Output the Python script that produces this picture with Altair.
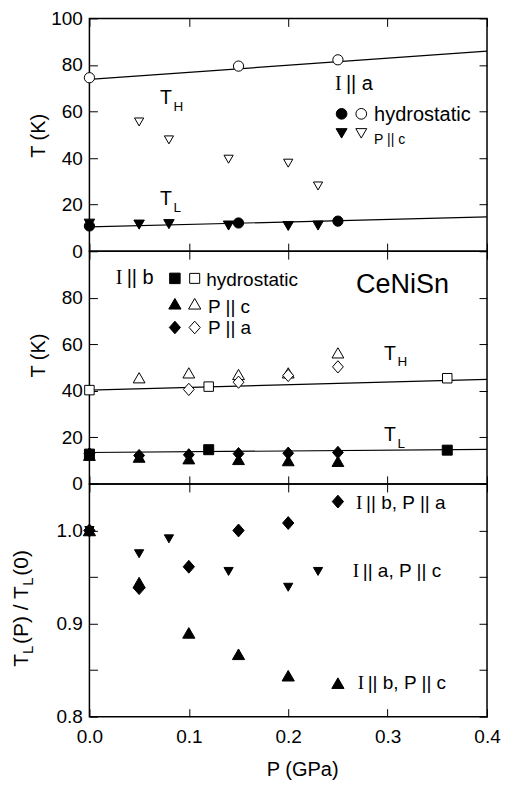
import altair as alt
import pandas as pd

SANS = "Liberation Sans"
SERIF = "Liberation Serif"
W, H = 398, 233
XDOM = [0, 0.4]

# ---------------- data: panel 1 (I || a) ----------------
a_hydro_P = [0.0, 0.15, 0.25]
a_hydro_TH = [74.5, 79.5, 82.2]
a_hydro_TL = [10.8, 12.1, 12.9]
a_pc_TH_P = [0.05, 0.08, 0.14, 0.20, 0.23]
a_pc_TH = [55.5, 47.8, 39.5, 37.8, 28.0]
a_pc_TL_P = [0.0, 0.05, 0.08, 0.14, 0.20, 0.23]
a_pc_TL = [11.8, 11.4, 11.6, 11.0, 10.8, 11.0]
a_fit_P = [0.0, 0.4]
a_fit_TH = [73.8, 85.9]
a_fit_TL = [10.4, 14.7]

# ---------------- data: panel 2 (I || b) ----------------
b_hydro_P = [0.0, 0.12, 0.36]
b_hydro_TH = [40.3, 41.8, 45.4]
b_hydro_TL = [12.8, 14.7, 14.5]
b_pc_TH_P = [0.05, 0.10, 0.15, 0.20, 0.25]
b_pc_TH = [45.6, 47.7, 47.0, 47.7, 56.3]
b_pa_TH_P = [0.10, 0.15, 0.20, 0.25]
b_pa_TH = [40.6, 43.7, 46.6, 50.3]
b_TL_P = [0.0, 0.05, 0.10, 0.15, 0.20, 0.25]
b_pc_TL = [12.3, 11.5, 10.8, 10.5, 10.0, 9.7]
b_pa_TL = [13.0, 12.2, 12.5, 13.0, 13.2, 13.5]
b_fit_P = [0.0, 0.4]
b_fit_TH = [40.3, 44.9]
b_fit_TL = [13.5, 14.8]

# ---------------- data: panel 3 (T_L(P)/T_L(0)) ----------------
r_ba_P = [0.0, 0.05, 0.10, 0.15, 0.20, 0.25]
r_ba = [1.0, 0.938, 0.961, 1.0, 1.008, 1.031]
r_ac_P = [0.0, 0.05, 0.08, 0.14, 0.20, 0.23]
r_ac = [1.0, 0.975, 0.991, 0.956, 0.939, 0.956]
r_bc_P = [0.0, 0.05, 0.10, 0.15, 0.20, 0.25]
r_bc = [1.0, 0.944, 0.890, 0.867, 0.844, 0.836]

# tick values
x_ticks = [0.0, 0.1, 0.2, 0.3, 0.4]
t_ticks = [0, 20, 40, 60, 80, 100]
r_ticks = [0.80, 0.85, 0.90, 0.95, 1.00, 1.05]

DIAMOND = "M0,-1L0.88,0L0,1L-0.88,0Z"


def axis(orient, values, labels=True, title=None, label_expr=None, fmt=None, **kw):
    d = dict(orient=orient, values=values, domain=False, grid=False, ticks=True,
             tickSize=8, offset=-8, tickColor="black", tickWidth=1,
             labels=labels, labelFont=SANS, labelFontSize=19, labelColor="black",
             labelFlush=False, labelOverlap=False,
             labelPadding=11 if orient == "bottom" else 7)
    if label_expr:
        d["labelExpr"] = label_expr
    if fmt:
        d["format"] = fmt
    if title:
        d.update(title=title, titleFont=SANS, titleFontSize=20, titleColor="black",
                 titleFontWeight="normal")
    else:
        d["title"] = None
    d.update(kw)
    return alt.Axis(**d)


def enc(ch, ydom, xaxis=None, yaxis=None):
    xs = alt.Scale(domain=XDOM, nice=False, zero=False)
    ys = alt.Scale(domain=ydom, nice=False, zero=False)
    return ch.encode(
        x=alt.X("P:Q", scale=xs, axis=xaxis),
        y=alt.Y("T:Q", scale=ys, axis=yaxis),
    )


def pts(P, T, shape, filled, size, ydom, **ax):
    df = pd.DataFrame({"P": P, "T": T})
    ch = alt.Chart(df).mark_point(shape=shape, size=size, filled=True,
                                  fill="black" if filled else "white",
                                  stroke="black", strokeWidth=1, opacity=1)
    return enc(ch, ydom, **ax)


def line(P, T, ydom, **ax):
    df = pd.DataFrame({"P": P, "T": T})
    ch = alt.Chart(df).mark_line(color="black", strokeWidth=1.2)
    return enc(ch, ydom, **ax)


def txt(P, T, labels, ydom, font=SANS, size=19, dx=0, dy=0, baseline="middle"):
    df = pd.DataFrame({"P": P, "T": T, "label": labels})
    ch = alt.Chart(df).mark_text(font=font, fontSize=size, dx=dx, dy=dy, align="left",
                                 baseline=baseline, color="black")
    return enc(ch, ydom).encode(text="label:N")


# ---------------- panel 1 ----------------
D1 = [0, 100]
p1 = alt.layer(
    line(a_fit_P, a_fit_TH, D1,
         xaxis=axis("bottom", x_ticks, labels=False),
         yaxis=axis("left", t_ticks, title="T (K)", titleX=-52.7, titleY=117,
                    titleAngle=270, titleBaseline="alphabetic")),
    line(a_fit_P, a_fit_TL, D1,
         xaxis=axis("top", x_ticks, labels=False),
         yaxis=axis("right", t_ticks, labels=False)),
    pts(a_pc_TH_P, a_pc_TH, "triangle-down", False, 85, D1),
    pts(a_pc_TL_P, a_pc_TL, "triangle-down", True, 110, D1),
    pts(a_hydro_P, a_hydro_TH, "circle", False, 105, D1),
    pts(a_hydro_P, a_hydro_TL, "circle", True, 105, D1),
    # legend symbols
    pts([0.2537], [59.0], "circle", True, 115, D1),
    pts([0.2735], [59.0], "circle", False, 115, D1),
    pts([0.2537], [50.6], "triangle-down", True, 120, D1),
    pts([0.2735], [50.6], "triangle-down", False, 120, D1),
    txt([0.2864], [58.6], ["hydrostatic"], D1, size=20),
    txt([0.2864], [47.8], ["P || c"], D1, size=14),
    txt([0.247], [71.8], ["I"], D1, font=SERIF, size=20),
    txt([0.247], [71.8], ["|| a"], D1, size=20, dx=11),
    txt([0.0711, 0.0711], [63.1, 19.9], ["T", "T"], D1, size=19.5, baseline="alphabetic"),
    txt([0.0711, 0.0711], [63.1, 19.9], ["H", "L"], D1, size=13.5, dx=13.4, dy=6.7,
        baseline="alphabetic"),
).resolve_axis(x="independent", y="independent").properties(width=W, height=H)

# ---------------- panel 2 ----------------
D2 = [0, 100]
p2 = alt.layer(
    line(b_fit_P, b_fit_TH, D2,
         xaxis=axis("bottom", x_ticks, labels=False),
         yaxis=axis("left", t_ticks, title="T (K)", titleX=-52.7, titleY=104,
                    titleAngle=270, titleBaseline="alphabetic",
                    label_expr="datum.value == 100 ? '' : datum.label")),
    line(b_fit_P, b_fit_TL, D2,
         xaxis=axis("top", x_ticks, labels=False),
         yaxis=axis("right", t_ticks, labels=False)),
    pts(b_pc_TH_P, b_pc_TH, "triangle-up", False, 140, D2),
    pts(b_pa_TH_P, b_pa_TH, DIAMOND, False, 150, D2),
    pts(b_hydro_P, b_hydro_TH, "square", False, 90, D2),
    pts(b_TL_P, b_pc_TL, "triangle-up", True, 140, D2),
    pts(b_TL_P, b_pa_TL, DIAMOND, True, 150, D2),
    pts(b_hydro_P, b_hydro_TL, "square", True, 100, D2),
    # legend symbols
    pts([0.0860], [88.3], "square", True, 110, D2),
    pts([0.1059], [88.3], "square", False, 100, D2),
    pts([0.0860], [77.4], "triangle-up", True, 150, D2),
    pts([0.1059], [77.4], "triangle-up", False, 150, D2),
    pts([0.0860], [67.2], DIAMOND, True, 160, D2),
    pts([0.1059], [67.2], DIAMOND, False, 160, D2),
    txt([0.1175], [87.8], ["hydrostatic"], D2, size=19),
    txt([0.1192, 0.1192], [76.2, 67.0], ["P || c", "P || a"], D2, size=19),
    txt([0.0264], [88.3], ["I"], D2, font=SERIF, size=20),
    txt([0.0264], [88.3], ["|| b"], D2, size=20, dx=11),
    txt([0.2683], [85.5], ["CeNiSn"], D2, size=27),
    txt([0.2964, 0.2964], [53.4, 18.5], ["T", "T"], D2, size=19.5, baseline="alphabetic"),
    txt([0.2964, 0.2964], [53.4, 18.5], ["H", "L"], D2, size=13.5, dx=13.4, dy=6.7,
        baseline="alphabetic"),
).resolve_axis(x="independent", y="independent").properties(width=W, height=H)

# ---------------- panel 3 ----------------
D3 = [0.8, 1.05]
r_expr = "(round(datum.value * 100) % 10 == 0) ? format(datum.value, '.1f') : ''"
title_pieces = [  # text, x (px), y (px), size
    ("T", -61.7, 183.0, 21),
    ("L", -56.5, 170.2, 15),
    ("(P) / T", -61.7, 160.2, 21),
    ("L", -56.5, 101.9, 15),
    ("(0)", -61.7, 91.9, 21),
]
title_layers = [
    alt.Chart(alt.Data(values=[{}])).mark_text(
        text=s, angle=270, align="left", baseline="alphabetic", font=SANS,
        fontSize=fs, color="black").encode(x=alt.value(px), y=alt.value(py))
    for s, px, py, fs in title_pieces
]

p3 = alt.layer(
    pts(r_ba_P, r_ba, DIAMOND, True, 165, D3,
        xaxis=axis("bottom", x_ticks, title="P (GPa)", fmt=".1f", titleX=213, titleY=67,
                   titleBaseline="alphabetic"),
        yaxis=axis("left", r_ticks, label_expr=r_expr)),
    pts(r_ac_P, r_ac, "triangle-down", True, 85, D3,
        xaxis=axis("top", x_ticks, labels=False),
        yaxis=axis("right", r_ticks, labels=False)),
    pts(r_bc_P, r_bc, "triangle-up", True, 150, D3),
    txt([0.2683], [1.029], ["I"], D3, font=SERIF, size=19),
    txt([0.2683], [1.029], ["|| b, P || a"], D3, size=19, dx=10),
    txt([0.2649], [0.956], ["I"], D3, font=SERIF, size=19),
    txt([0.2649], [0.956], ["|| a, P || c"], D3, size=19, dx=10),
    txt([0.2699], [0.8364], ["I"], D3, font=SERIF, size=19),
    txt([0.2699], [0.8364], ["|| b, P || c"], D3, size=19, dx=10),
    *title_layers,
).resolve_axis(x="independent", y="independent").properties(width=W, height=H)

chart = alt.vconcat(p1, p2, p3, spacing=0, bounds="flush").configure_view(
    stroke="black", strokeWidth=1.5
).properties(padding={"left": 1.5, "top": 0, "right": 0, "bottom": 0})

chart.save("out.html", embed_options={"renderer": "svg", "actions": False})
